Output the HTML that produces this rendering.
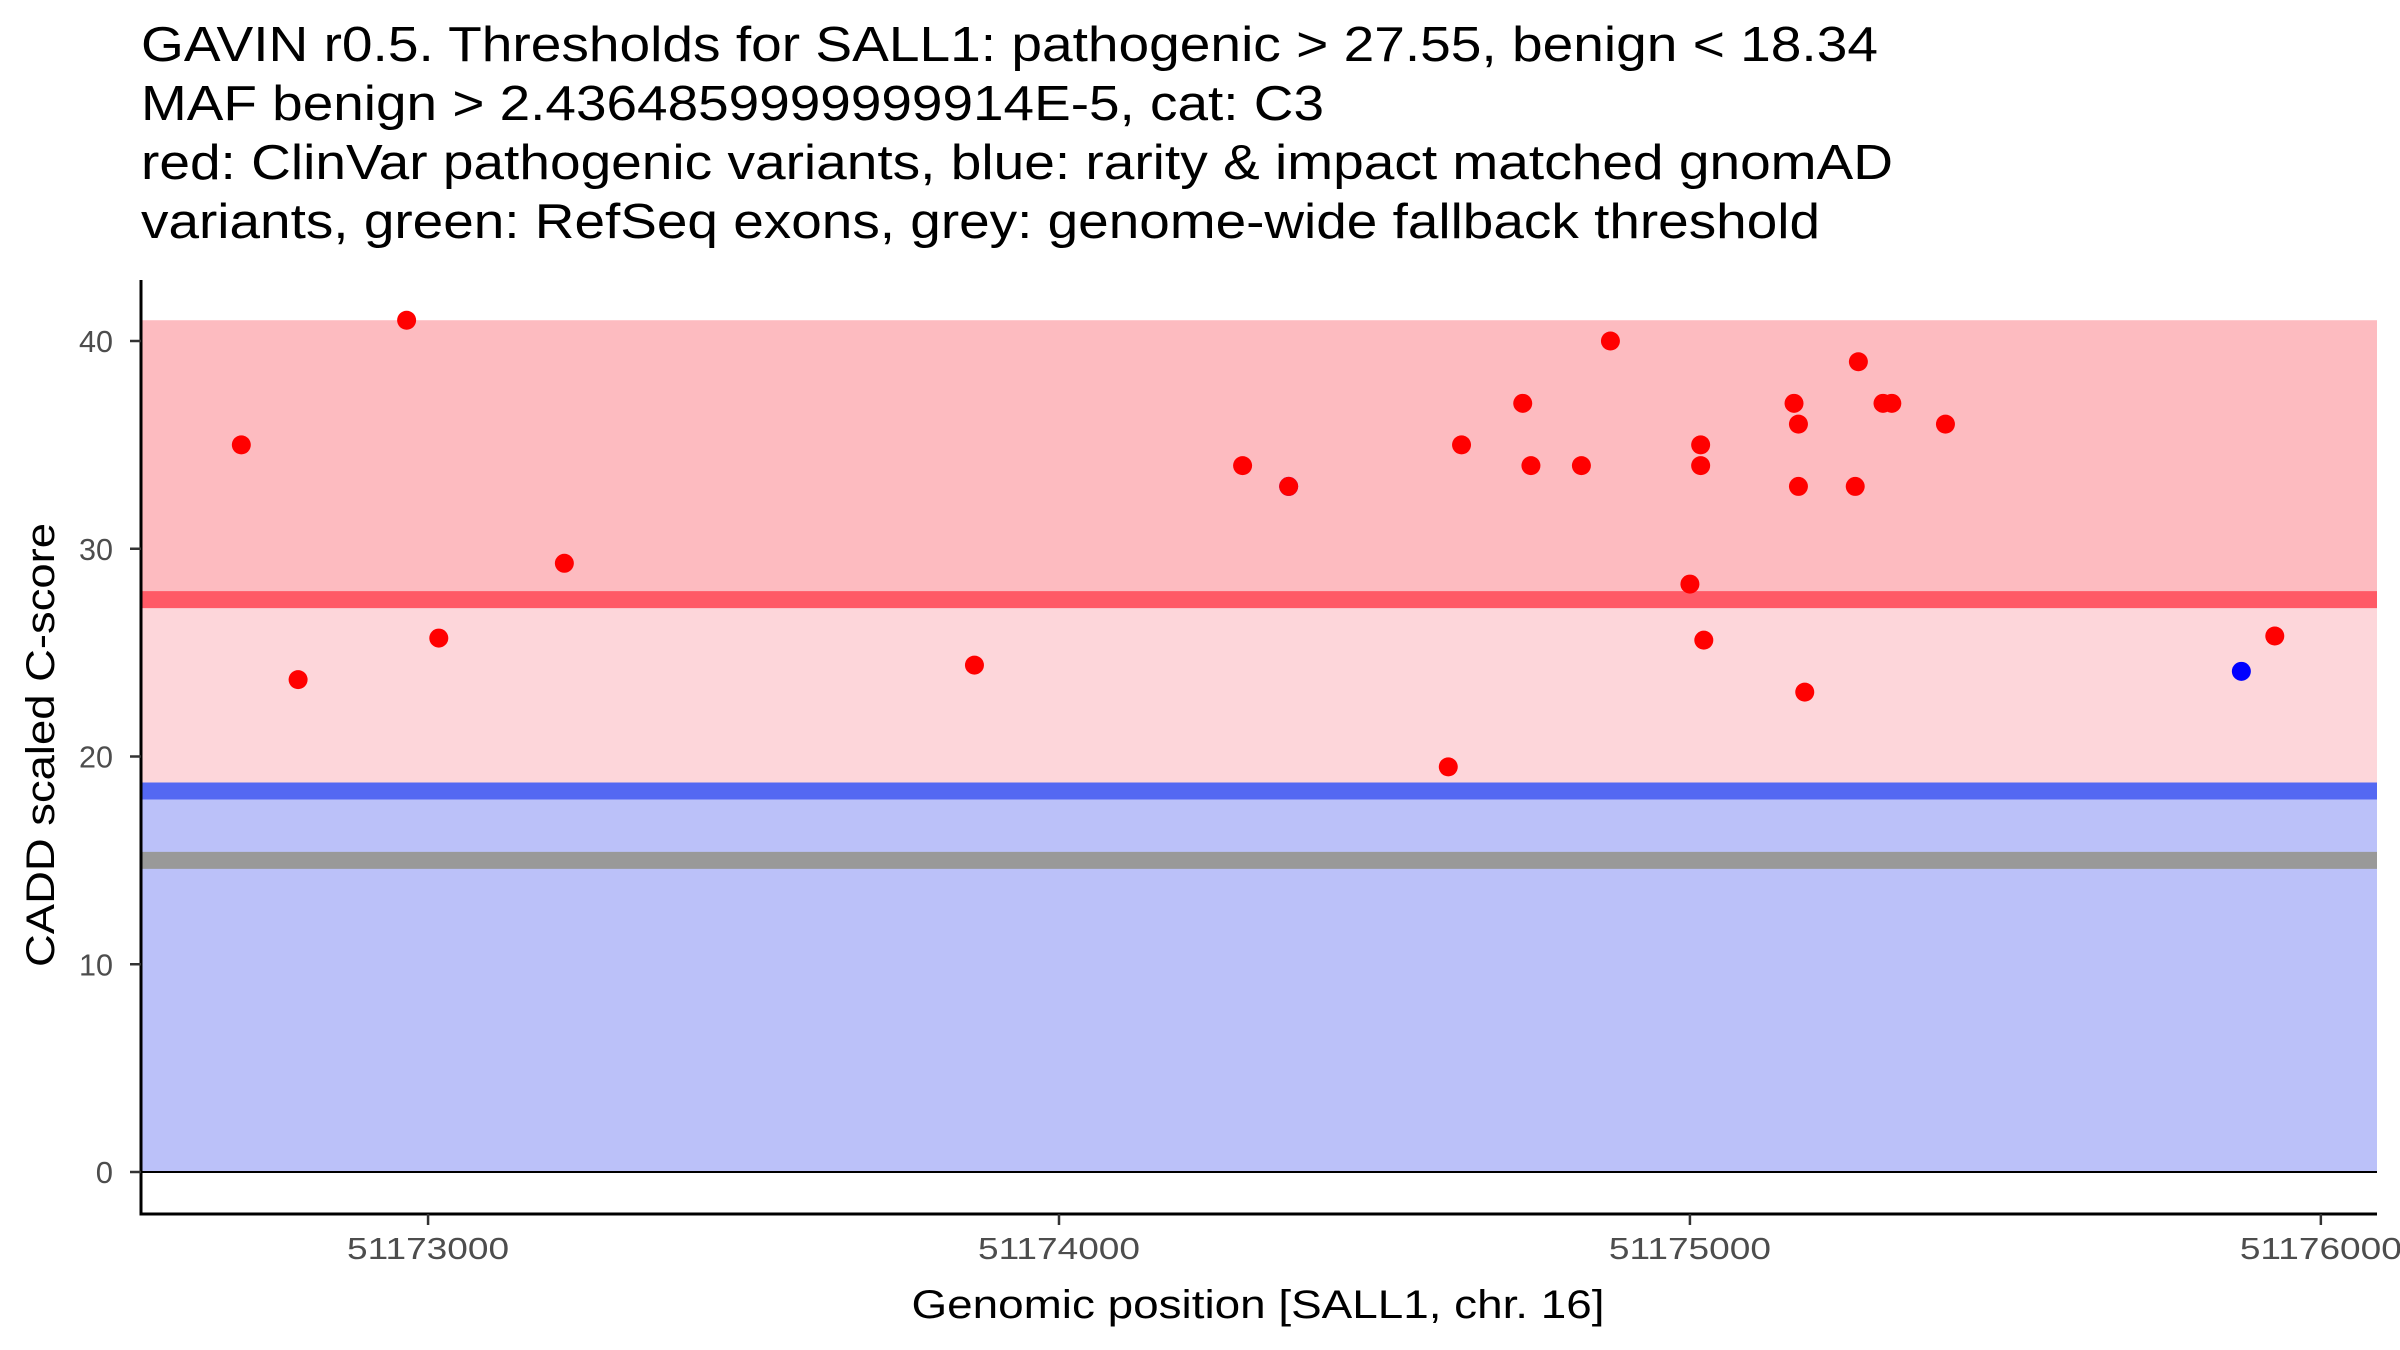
<!DOCTYPE html>
<html><head><meta charset="utf-8"><style>
html,body{margin:0;padding:0;background:#fff;}
svg{display:block;font-family:"Liberation Sans",Arial,sans-serif;}
</style></head><body>
<svg id="chart" width="2400" height="1350" viewBox="0 0 2400 1350" xmlns="http://www.w3.org/2000/svg">
<g font-size="49" fill="#000">
<text x="141" y="61" textLength="1737" lengthAdjust="spacingAndGlyphs">GAVIN r0.5. Thresholds for SALL1: pathogenic &gt; 27.55, benign &lt; 18.34</text>
<text x="141" y="120" textLength="1183" lengthAdjust="spacingAndGlyphs">MAF benign &gt; 2.4364859999999914E-5, cat: C3</text>
<text x="141" y="179" textLength="1752" lengthAdjust="spacingAndGlyphs">red: ClinVar pathogenic variants, blue: rarity &amp; impact matched gnomAD</text>
<text x="141" y="238" textLength="1679" lengthAdjust="spacingAndGlyphs">variants, green: RefSeq exons, grey: genome-wide fallback threshold</text>
</g>
<g id="bands"></g>
<g id="points"></g>
<g id="axes"></g>
<text x="1258" y="1318" font-size="40" text-anchor="middle" fill="#000" textLength="693" lengthAdjust="spacingAndGlyphs">Genomic position [SALL1, chr. 16]</text>
<text transform="translate(54,745) rotate(-90)" font-size="40" text-anchor="middle" fill="#000" textLength="444" lengthAdjust="spacingAndGlyphs">CADD scaled C-score</text>
</svg>
<script>
const pathoThreshold = 27.55;
const benignThreshold = 18.34;
const fallbackThreshold = 15;
const bandTop = 41;
const yTicks = [0, 10, 20, 30, 40];
const xTicks = [51173000, 51174000, 51175000, 51176000];
const redPos = [51172704,51172794,51172966,51173017,51173216,51173866,51174291,51174364,51174617,51174638,51174735,51174748,51174828,51174874,51175000,51175017,51175017,51175022,51175165,51175172,51175172,51175182,51175262,51175267,51175306,51175320,51175405,51175927];
const redScore = [35,23.7,41,25.7,29.3,24.4,34,33,19.5,35,37,34,34,40,28.3,35,34,25.6,37,36,33,23.1,33,39,37,37,36,25.8];
const bluePos = [51174364,51175874];
const blueScore = [33,24.1];

const X0=141, X1=2377, Y_AXIS=1214;
const xDomain=[51172545,51176089];
function xs(v){return X0+(v-xDomain[0])/(xDomain[1]-xDomain[0])*(X1-X0);}
function ys(v){return 1172-v*20.775;}
const NS="http://www.w3.org/2000/svg";
function mk(tag,attrs,parent){const e=document.createElementNS(NS,tag);for(const k in attrs)e.setAttribute(k,attrs[k]);parent.appendChild(e);return e;}

const bands=document.getElementById('bands');
let r;
r=mk('rect',{x:X0,y:ys(bandTop),width:X1-X0,height:ys(pathoThreshold)-ys(bandTop),fill:'#FDBBC0'},bands);


r=mk('rect',{x:X0,y:ys(benignThreshold),width:X1-X0,height:ys(0)-ys(benignThreshold),fill:'#BBC1F9'},bands);


r=mk('rect',{x:X0,y:ys(pathoThreshold),width:X1-X0,height:ys(benignThreshold)-ys(pathoThreshold),fill:'#FDD6DA'},bands);


r=mk('line',{x1:X0,x2:X1,y1:ys(pathoThreshold),y2:ys(pathoThreshold),stroke:'#FF5A66','stroke-width':17},bands);


r=mk('line',{x1:X0,x2:X1,y1:ys(benignThreshold),y2:ys(benignThreshold),stroke:'#5468F2','stroke-width':17},bands);


r=mk('line',{x1:X0,x2:X1,y1:ys(fallbackThreshold),y2:ys(fallbackThreshold),stroke:'#999999','stroke-width':17},bands);


r=mk('line',{x1:X0,x2:X1,y1:ys(0),y2:ys(0),stroke:'#000','stroke-width':2},bands);



const pts=document.getElementById('points');
for(let i=0;i<bluePos.length;i++){
  const c=mk('ellipse',{cx:xs(bluePos[i]),cy:ys(blueScore[i]),rx:9.5,ry:9.5,fill:'#0000FF'},pts);
  
  
}
for(let i=0;i<redPos.length;i++){
  const c=mk('ellipse',{cx:xs(redPos[i]),cy:ys(redScore[i]),rx:9.5,ry:9.5,fill:'#FF0000'},pts);
  
  
}

const ax=document.getElementById('axes');
r=mk('line',{x1:X0,x2:X0,y1:280,y2:Y_AXIS+1.5,stroke:'#000','stroke-width':3},ax);


r=mk('line',{x1:X0-1.5,x2:X1,y1:Y_AXIS,y2:Y_AXIS,stroke:'#000','stroke-width':3},ax);


yTicks.forEach(v=>{
  const t=mk('line',{x1:X0-11,x2:X0,y1:ys(v),y2:ys(v),stroke:'#333','stroke-width':2.5},ax);
  
  
  const l=mk('text',{x:X0-28,y:ys(v)+11,'font-size':31,'text-anchor':'end',fill:'#4D4D4D'},ax);
  l.textContent=v;
  if(String(v).length===2){l.setAttribute('textLength',34);l.setAttribute('lengthAdjust','spacingAndGlyphs');}
  
  
});
xTicks.forEach(v=>{
  const t=mk('line',{x1:xs(v),x2:xs(v),y1:Y_AXIS,y2:Y_AXIS+11,stroke:'#333','stroke-width':2.5},ax);
  
  
  const l=mk('text',{x:xs(v),y:Y_AXIS+45,'font-size':31,'text-anchor':'middle',fill:'#4D4D4D',textLength:162,lengthAdjust:'spacingAndGlyphs'},ax);
  l.textContent=v;
  
  
});
</script>
</body></html>
